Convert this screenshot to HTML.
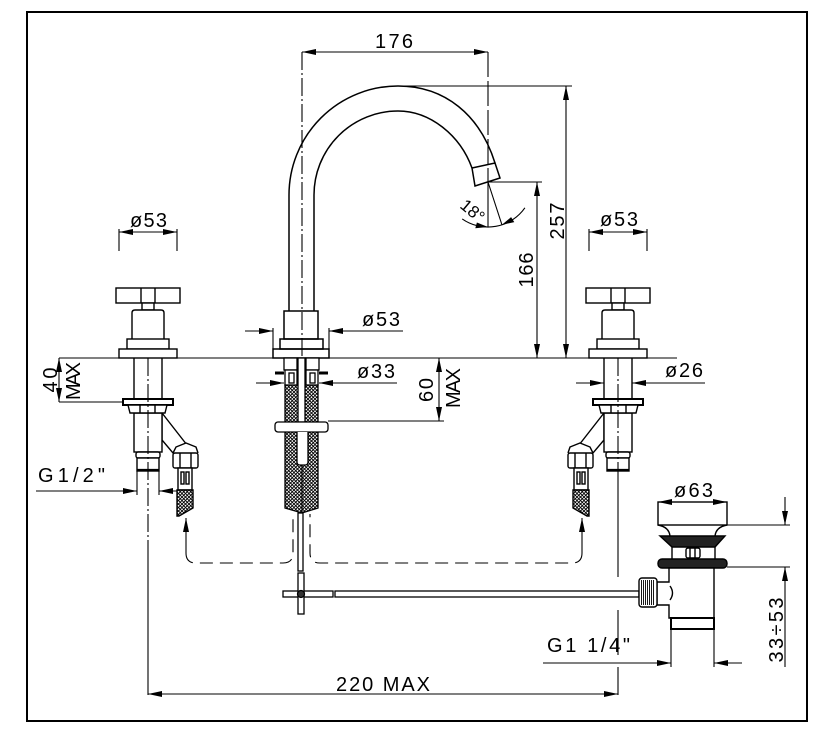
<!DOCTYPE html>
<html><head><meta charset="utf-8">
<style>html,body{margin:0;padding:0;background:#fff;}svg{display:block}</style>
</head><body>
<svg width="828" height="740" viewBox="0 0 828 740" xmlns="http://www.w3.org/2000/svg" font-family="'Liberation Sans', sans-serif" font-size="20">
<defs>
<marker id="ar" viewBox="0 0 14 6" refX="14" refY="3" markerWidth="14" markerHeight="6" markerUnits="userSpaceOnUse" orient="auto-start-reverse"><path d="M0,0 L14,3 L0,6 z" fill="#000"/></marker>
<pattern id="xh" width="3.5" height="3.5" patternUnits="userSpaceOnUse"><rect width="3.5" height="3.5" fill="#fff"/><path d="M0,0 L3.5,3.5 M3.5,0 L0,3.5" stroke="#000" stroke-width="0.9"/></pattern>
</defs>
<rect x="0" y="0" width="828" height="740" fill="#fff"/>
<rect x="27" y="12" width="780" height="709" fill="none" stroke="#000" stroke-width="2"/>

<!-- Spout -->
<g fill="none" stroke="#000" stroke-width="1.5">
<path d="M289,311 L289,195 A109,109 0 0 1 398,86 C445,86 480,115 495,163"/>
<path d="M314,311 L314,195 A84,84 0 0 1 398,111 C430,111 460,135 472,168"/>
<polygon points="472,168 495,163 500,178 475,186" fill="#fff"/>
<rect x="284" y="311" width="34" height="28"/>
<rect x="280" y="339" width="43" height="10"/>
<rect x="273" y="349" width="56" height="9"/>
</g>

<!-- below-deck center -->
<g stroke="#000" stroke-width="1.3" fill="none">
<path d="M285,385 L318,385 L318,508 L302,513 L285,508 Z" fill="url(#xh)"/>
<line x1="302" y1="432" x2="302" y2="513"/>
<rect x="298" y="358" width="7" height="64" fill="#fff"/>
<rect x="284" y="358" width="13" height="12" fill="#fff"/>
<rect x="306" y="358" width="13" height="12" fill="#fff"/>
<rect x="285" y="370" width="12" height="15" fill="#fff"/>
<rect x="306" y="370" width="12" height="15" fill="#fff"/>
<rect x="289" y="373" width="5" height="10"/>
<rect x="310" y="373" width="5" height="10"/>
<line x1="275" y1="373" x2="284" y2="373" stroke-width="3"/>
<line x1="319" y1="373" x2="328" y2="373" stroke-width="3"/>
<rect x="275" y="422" width="53" height="10" rx="3" fill="#fff"/>
<path d="M297,432 L297,462 Q297,465 300,465 L305,465 Q308,465 308,462 L308,432" fill="#fff"/>
<rect x="298" y="513" width="5" height="58" fill="#fff"/>
</g>

<!-- drain lever cross & rod -->
<g stroke="#000" stroke-width="1.3" fill="#fff">
<rect x="283" y="591" width="50" height="6"/>
<rect x="298" y="573" width="6" height="41"/>
<circle cx="301" cy="594" r="3.5" fill="#333"/>
<rect x="335" y="591" width="304" height="6"/>
</g>

<!-- Left handle -->
<g id="hl" fill="#fff" stroke="#000" stroke-width="1.4">
<rect x="116" y="288" width="64" height="15"/>
<line x1="141" y1="288" x2="141" y2="303"/><line x1="155" y1="288" x2="155" y2="303"/>
<rect x="142" y="303" width="12" height="7"/>
<path d="M132,339 L132,313 Q132,310 135,310 L161,310 Q164,310 164,313 L164,339"/>
<rect x="127" y="339" width="42" height="10"/>
<rect x="119" y="349" width="58" height="9"/>
<line x1="134" y1="358" x2="134" y2="399"/><line x1="162" y1="358" x2="162" y2="399"/>
<path d="M162,413 L187,445 L173,453 L162,440 Z"/>
<rect x="134" y="413" width="28" height="39"/>
<rect x="123" y="399" width="50" height="6" stroke-width="2"/>
<path d="M128,405 L167,405 L165,413 L130,413 Z"/>
<line x1="140" y1="405" x2="140" y2="413"/><line x1="155" y1="405" x2="155" y2="413"/>
<rect x="136" y="452" width="24" height="6" rx="2"/>
<rect x="137" y="458" width="22" height="13"/>
<line x1="137" y1="470" x2="159" y2="470" stroke-width="2.2"/>
<path d="M173,453 L176,447 L186,443 L196,447 L198,453"/>
<rect x="173" y="453" width="25" height="15" rx="2"/>
<line x1="180" y1="453" x2="180" y2="468"/><line x1="191" y1="453" x2="191" y2="468"/>
<rect x="178" y="468" width="14" height="22"/>
<rect x="181" y="472" width="3" height="12"/><rect x="186" y="472" width="3" height="12"/>
<path d="M177,490 L193,490 L193,508 L179,516 L177,516 Z" fill="url(#xh)"/>
</g>
<use href="#hl" transform="matrix(-1,0,0,1,766,0)"/>

<!-- Drain -->
<g stroke="#000" stroke-width="1.4" fill="#fff">
<rect x="658" y="502" width="69" height="23"/>
<path d="M658,525 Q669,527 670,536 M727,525 Q716,527 715,536" fill="none"/>
<line x1="672" y1="547" x2="672" y2="559"/><line x1="715" y1="547" x2="715" y2="559"/>
<rect x="686" y="548" width="14" height="10" rx="2"/>
<line x1="690" y1="548" x2="690" y2="558"/><line x1="695" y1="548" x2="695" y2="558"/>
<polygon points="660,536 725,536 715,547 672,547" fill="#222"/>
<rect x="658" y="559" width="69" height="9" rx="4" fill="#222"/>
<path d="M669,568 L669,582 L657,582 L657,605 L669,605 L669,618 L714,618 L714,568 Z"/>
<path d="M670,586 Q675,593 670,600" fill="none"/>
<rect x="639" y="578" width="18" height="29" rx="3"/>
<path d="M641.5,580 V605 M643.5,580 V605 M645.5,580 V605 M647.5,580 V605 M649.5,580 V605 M651.5,580 V605 M653.5,580 V605" stroke-width="0.9"/>
<rect x="671" y="618" width="43" height="11" stroke-width="2"/>
</g>

<!-- Deck line & thin lines -->
<g stroke="#000" stroke-width="1.1" fill="none">
<line x1="59" y1="358" x2="677" y2="358"/>
<line x1="302" y1="52" x2="302" y2="358" stroke-dasharray="18,3,2,3"/>
<line x1="488" y1="52" x2="488" y2="182" stroke-dasharray="25,4"/>
<line x1="148" y1="358" x2="148" y2="545" stroke-dasharray="18,3,2,3"/>
<line x1="148" y1="545" x2="148" y2="695"/>
<line x1="618" y1="358" x2="618" y2="471" stroke-dasharray="18,3,2,3"/>
<line x1="618" y1="471" x2="618" y2="577"/>
<line x1="618" y1="610" x2="618" y2="655"/>
<line x1="618" y1="667" x2="618" y2="695"/>

<line x1="302" y1="52" x2="488" y2="52" marker-start="url(#ar)" marker-end="url(#ar)"/>
<line x1="400" y1="86" x2="572" y2="86"/>
<line x1="566" y1="86" x2="566" y2="358" marker-start="url(#ar)" marker-end="url(#ar)"/>
<line x1="488" y1="182" x2="542" y2="182"/>
<line x1="537" y1="182" x2="537" y2="358" marker-start="url(#ar)" marker-end="url(#ar)"/>
<line x1="488" y1="182" x2="488" y2="227"/>
<line x1="488" y1="182" x2="502" y2="225"/>
<path d="M462.2,218.9 A45,45 0 0 0 524.9,207.8"/>

<line x1="119" y1="229" x2="119" y2="251"/><line x1="177" y1="229" x2="177" y2="251"/>
<line x1="119" y1="232" x2="177" y2="232" marker-start="url(#ar)" marker-end="url(#ar)"/>
<line x1="589" y1="229" x2="589" y2="251"/><line x1="647" y1="229" x2="647" y2="251"/>
<line x1="589" y1="232" x2="647" y2="232" marker-start="url(#ar)" marker-end="url(#ar)"/>
<line x1="273" y1="328" x2="273" y2="349"/><line x1="329" y1="328" x2="329" y2="349"/>
<line x1="245" y1="331" x2="273" y2="331" marker-end="url(#ar)"/>
<line x1="403" y1="331" x2="329" y2="331" marker-end="url(#ar)"/>
<line x1="256" y1="383" x2="284" y2="383" marker-end="url(#ar)"/>
<line x1="397" y1="383" x2="319" y2="383" marker-end="url(#ar)"/>
<line x1="328" y1="421" x2="444" y2="421"/>
<line x1="439" y1="358" x2="439" y2="421" marker-start="url(#ar)" marker-end="url(#ar)"/>
<line x1="576" y1="383" x2="604" y2="383" marker-end="url(#ar)"/>
<line x1="705" y1="383" x2="632" y2="383" marker-end="url(#ar)"/>
<line x1="59" y1="402" x2="123" y2="402"/>
<line x1="59" y1="358" x2="59" y2="402" marker-start="url(#ar)" marker-end="url(#ar)"/>
<line x1="137" y1="471" x2="137" y2="495"/><line x1="159" y1="471" x2="159" y2="495"/>
<line x1="36" y1="491" x2="137" y2="491" marker-end="url(#ar)"/>
<line x1="177" y1="491" x2="159" y2="491" marker-end="url(#ar)"/>

<line x1="186" y1="553" x2="186" y2="518" marker-end="url(#ar)"/>
<line x1="582" y1="553" x2="582" y2="518" marker-end="url(#ar)"/>
<path d="M186,553 Q186,563 196,563 L283,563 Q293,563 293,553 L293,514" stroke-dasharray="13,7"/>
<path d="M582,553 Q582,563 572,563 L320,563 Q310,563 310,553 L310,514" stroke-dasharray="13,7"/>

<line x1="658" y1="502" x2="727" y2="502" marker-start="url(#ar)" marker-end="url(#ar)"/>
<line x1="727" y1="525" x2="790" y2="525"/>
<line x1="727" y1="567" x2="790" y2="567"/>
<line x1="785" y1="497" x2="785" y2="525" marker-end="url(#ar)"/>
<line x1="785" y1="667" x2="785" y2="567" marker-end="url(#ar)"/>
<line x1="671" y1="629" x2="671" y2="667"/><line x1="714" y1="629" x2="714" y2="667"/>
<line x1="543" y1="663" x2="671" y2="663" marker-end="url(#ar)"/>
<line x1="742" y1="663" x2="714" y2="663" marker-end="url(#ar)"/>
<line x1="148" y1="694" x2="618" y2="694" marker-start="url(#ar)" marker-end="url(#ar)"/>
</g>

<polygon points="488,227 475.3,228.3 476.9,222.5" fill="#000"/>
<polygon points="501.9,224.8 514.3,222.1 511.1,217.1" fill="#000"/>

<g fill="#000">
<text x="375" y="48" textLength="38">176</text>
<text x="130" y="227" textLength="37">ø53</text>
<text x="600" y="226" textLength="38">ø53</text>
<text x="362" y="326" textLength="38">ø53</text>
<text x="357" y="378" textLength="38">ø33</text>
<text x="665" y="377" textLength="38">ø26</text>
<text x="674" y="497" textLength="39">ø63</text>
<text x="38" y="482" textLength="67">G1/2"</text>
<text x="547" y="652" textLength="83">G1 1/4"</text>
<text x="336" y="691" textLength="94">220 MAX</text>
<text transform="translate(57,380) rotate(-90)" text-anchor="middle" textLength="25">40</text>
<text transform="translate(80,381) rotate(-90)" text-anchor="middle" textLength="38">MAX</text>
<text transform="translate(433,390) rotate(-90)" text-anchor="middle" textLength="24">60</text>
<text transform="translate(460,388) rotate(-90)" text-anchor="middle" textLength="40">MAX</text>
<text transform="translate(533,270) rotate(-90)" text-anchor="middle" textLength="35">166</text>
<text transform="translate(564,221) rotate(-90)" text-anchor="middle" textLength="37">257</text>
<text transform="translate(783,630) rotate(-90)" text-anchor="middle" textLength="65">33÷53</text>
<text transform="translate(459,207) rotate(40)" font-size="17">18°</text>
</g>
</svg>
</body></html>
